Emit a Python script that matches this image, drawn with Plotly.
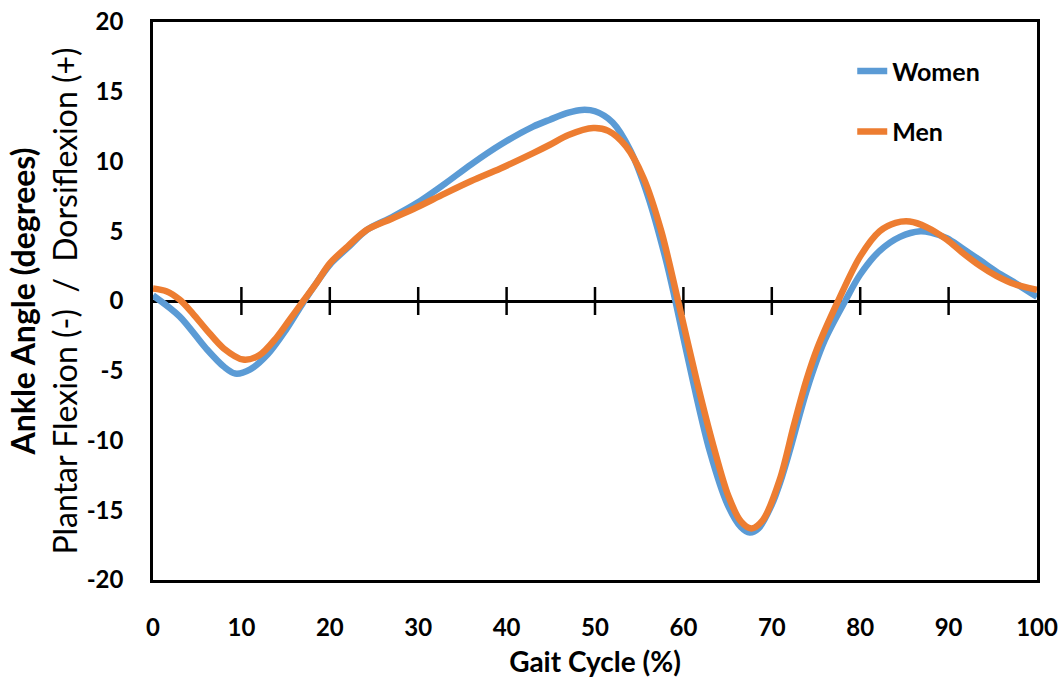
import plotly.graph_objects as go

# Gait cycle (%) sample positions and ankle angles (degrees)
women_x = [0, 3, 6, 8, 9.3, 11, 13, 15, 17, 18.5, 20, 22, 24.2, 27, 29.8, 33, 36, 39.3, 43, 44.9, 47, 48.5, 50, 52, 54, 56, 58, 59.1, 61.1, 63, 65, 66.5, 67.5, 68.5, 70, 71, 72, 74, 76, 78.3, 80, 82.2, 84.5, 86.8, 88, 89.8, 91.5, 93.6, 95.4, 97.5, 100]
women_y = [0.4, -1.1, -3.4, -4.7, -5.2, -4.9, -3.8, -2.1, -0.1, 1.3, 2.6, 3.8, 5.1, 6.0, 7.0, 8.4, 9.8, 11.2, 12.5, 13.0, 13.5, 13.7, 13.6, 12.8, 10.8, 7.5, 3.0, 0.0, -5.8, -10.8, -14.6, -16.2, -16.6, -16.3, -14.6, -12.9, -10.8, -6.3, -2.8, 0.0, 1.9, 3.6, 4.6, 5.0, 4.9, 4.5, 3.8, 2.9, 2.1, 1.3, 0.3]

men_x = [0, 1.5, 3, 4.5, 6.1, 8, 10.2, 12, 14, 15.5, 17, 18.5, 20, 22, 24.2, 27, 29.8, 33, 36, 39.3, 43, 44.9, 47, 49.8, 51.5, 53.5, 55.5, 57.5, 59.4, 61.5, 63.4, 65.1, 66.5, 67.7, 69, 70.9, 72.5, 73.9, 75.2, 77.5, 80, 82.2, 84, 85.6, 87.5, 89.8, 91.5, 93.6, 95.4, 97.5, 100]
men_y = [0.9, 0.7, 0.1, -0.9, -2.1, -3.4, -4.2, -3.9, -2.6, -1.3, 0.0, 1.3, 2.7, 3.9, 5.1, 5.9, 6.7, 7.7, 8.6, 9.5, 10.6, 11.2, 11.9, 12.4, 12.2, 11.1, 8.8, 5.0, 0.0, -5.7, -10.4, -14.0, -15.8, -16.3, -15.7, -12.8, -8.9, -5.7, -3.3, 0.0, 3.2, 5.0, 5.6, 5.7, 5.3, 4.4, 3.5, 2.5, 1.8, 1.2, 0.8]

x_ticks = [0, 10, 20, 30, 40, 50, 60, 70, 80, 90, 100]
y_ticks = [-20, -15, -10, -5, 0, 5, 10, 15, 20]
zero_ticks = x_ticks[1:-1]

FONT = "Lato"
BLUE = "#5B9BD5"
ORANGE = "#ED7D31"

fig = go.Figure()
fig.add_trace(go.Scatter(x=zero_ticks, y=[0] * len(zero_ticks), mode="markers",
                         marker=dict(symbol="line-ns", size=20,
                                     line=dict(color="black", width=2.5)),
                         showlegend=False, hoverinfo="skip"))
fig.add_trace(go.Scatter(x=women_x, y=women_y, mode="lines", name="<b>Women</b>",
                         line=dict(color=BLUE, width=6.5, shape="spline", smoothing=0.9),
                         legendgroup="w"))
fig.add_trace(go.Scatter(x=men_x, y=men_y, mode="lines", name="<b>Men</b>",
                         line=dict(color=ORANGE, width=6.5, shape="spline", smoothing=0.9),
                         legendgroup="m"))

fig.update_layout(
    width=1063, height=693,
    margin=dict(l=153, r=26, t=22, b=113, autoexpand=False),
    plot_bgcolor="white", paper_bgcolor="white",
    font=dict(family=FONT, color="black", size=24),
    showlegend=True,
    legend=dict(x=0.791, y=0.953, xanchor="left", yanchor="top",
                font=dict(size=25, family=FONT, color="black"),
                tracegroupgap=25, bgcolor="rgba(0,0,0,0)"),
    xaxis=dict(range=[0, 100], tickvals=x_ticks, ticktext=[f"<b>{v}</b>" for v in x_ticks],
               showgrid=False, zeroline=False, showline=True, linecolor="black",
               linewidth=2.5, mirror=True, ticks="", ticklabelstandoff=24,
               automargin=False,
               tickfont=dict(size=24, family=FONT),
               title=dict(text="<b>Gait Cycle (%)</b>", standoff=13,
                          font=dict(size=28, family=FONT))),
    yaxis=dict(range=[-20, 20], tickvals=y_ticks, ticktext=[f"<b>{v}</b>" for v in y_ticks],
               showgrid=False, zeroline=True, zerolinecolor="black", zerolinewidth=2.5,
               showline=True, linecolor="black",
               linewidth=2.5, mirror=True, ticks="", ticklabelstandoff=22,
               automargin=False,
               tickfont=dict(size=24, family=FONT),
               title=dict(text="<b>Ankle Angle (degrees)</b><br>Plantar Flexion (-)\u00a0 /\u00a0 Dorsiflexion (+)",
                          standoff=0, font=dict(size=32, family=FONT))),
)

fig.write_html("out.html")
